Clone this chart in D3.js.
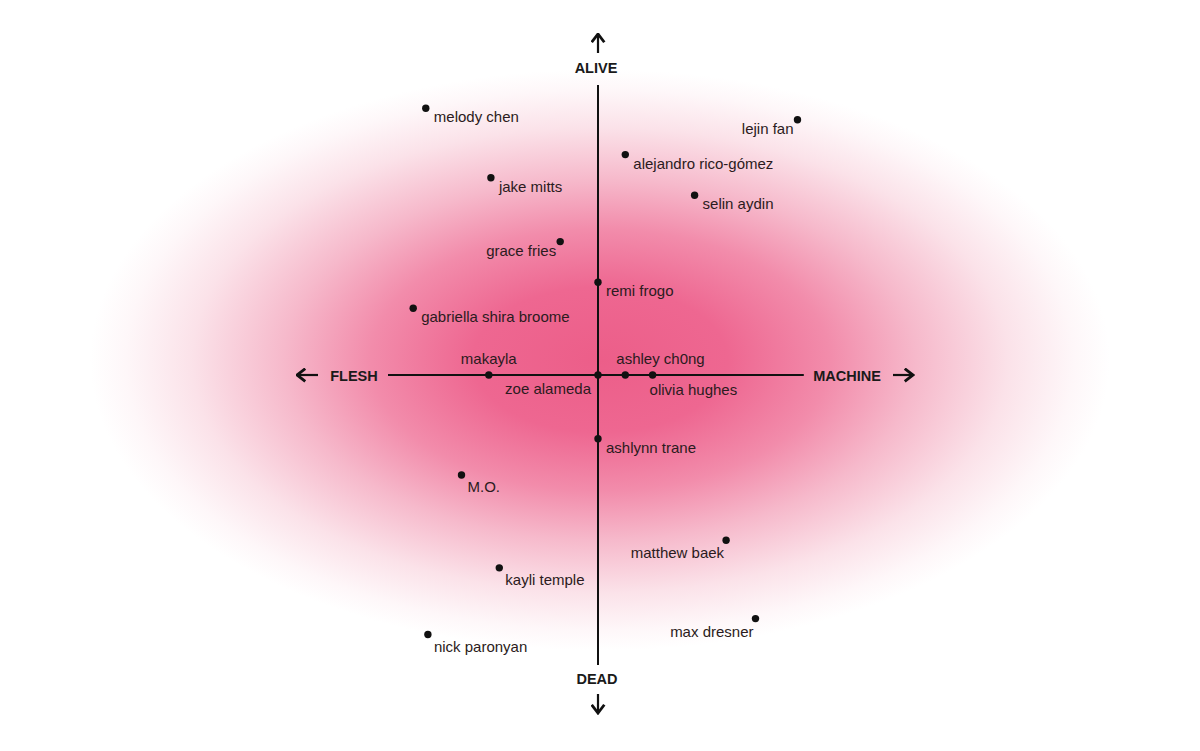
<!DOCTYPE html>
<meta charset="utf-8">
<head>
<style>
  body { margin: 0; background: #fff; }
  .name { font: 15px "Liberation Sans", Arial, sans-serif; fill: #2b1b20; }
  .axislabel { font: bold 14.5px "Liberation Sans", Arial, sans-serif; fill: #1a1a1a; }
</style>
</head>
<body>
<script src="https://cdnjs.cloudflare.com/ajax/libs/d3/7.8.5/d3.min.js"></script>
<script>

// people on the flesh <-> machine / dead <-> alive plane
var names = ["melody chen", "lejin fan", "alejandro rico-gómez", "jake mitts", "selin aydin",
             "grace fries", "remi frogo", "gabriella shira broome", "makayla", "zoe alameda",
             "ashley ch0ng", "olivia hughes", "ashlynn trane", "M.O.", "matthew baek",
             "kayli temple", "max dresner", "nick paronyan"];
var machine = [-8.2, 9.5, 1.3, -5.1, 4.6, -1.8, 0, -8.8, -5.2, 0, 1.3, 2.6, 0, -6.5, 6.1, -4.7, 7.5, -8.1];
var alive   = [9.2, 8.8, 7.6, 6.8, 6.2, 4.6, 3.2, 2.3, 0, 0, 0, 0, -2.2, -3.45, -5.7, -6.65, -8.4, -8.95];
// where each label sits relative to its dot
var labelSide = ["r", "l", "r", "r", "r", "l", "r", "r", "t", "bl", "tr", "br", "r", "rb", "lb", "rb", "lb", "rb"];

var axisNames = {left: "FLESH", right: "MACHINE", top: "ALIVE", bottom: "DEAD"};

var width = 1200, height = 751;

var x = d3.scaleLinear().domain([-10, 10]).range([388, 808]);
var y = d3.scaleLinear().domain([-10, 10]).range([665, 85]);

var svg = d3.select("body").append("svg")
    .attr("width", width)
    .attr("height", height);

// soft pink glow behind everything
var defs = svg.append("defs");
var grad = defs.append("radialGradient")
    .attr("id", "glow")
    .attr("gradientUnits", "userSpaceOnUse")
    .attr("cx", 600).attr("cy", 360).attr("r", 510)
    .attr("gradientTransform", "translate(600,360) scale(1,0.57) translate(-600,-360)");
[[0, "#ec5e89"], [0.25, "#ee6791"], [0.45, "#f28cab"], [0.62, "#f6b9cb"], [0.8, "#fbe2e9"], [0.93, "#fef7f9"], [1, "#ffffff"]]
  .forEach(function(s) { grad.append("stop").attr("offset", s[0]).attr("stop-color", s[1]); });

svg.append("rect").attr("width", width).attr("height", height).attr("fill", "#fff");
svg.append("rect").attr("width", width).attr("height", height).attr("fill", "url(#glow)");

// arrow head
defs.append("marker")
    .attr("id", "arrow")
    .attr("viewBox", "0 0 10 10")
    .attr("refX", 9).attr("refY", 5)
    .attr("markerWidth", 15).attr("markerHeight", 15)
    .attr("markerUnits", "userSpaceOnUse")
    .attr("orient", "auto")
  .append("path")
    .attr("d", "M3.5,0.8 L9,5 L3.5,9.2")
    .attr("fill", "none")
    .attr("stroke", "#111")
    .attr("stroke-width", 1.9);

var cx = x(0), cy = y(0);

// main axes
svg.append("line").attr("x1", x(-10)).attr("x2", x(9.8)).attr("y1", cy).attr("y2", cy)
    .attr("stroke", "#111").attr("stroke-width", 2);
svg.append("line").attr("x1", cx).attr("x2", cx).attr("y1", y(10)).attr("y2", y(-10))
    .attr("stroke", "#111").attr("stroke-width", 2);

// little arrows past the axis names
var arrows = [
  [x(-10) - 70, cy, x(-10) - 91, cy],
  [x(10) + 85, cy, x(10) + 105, cy],
  [cx, y(10) - 32, cx, y(10) - 51],
  [cx, y(-10) + 29, cx, y(-10) + 48]
];
svg.selectAll(".arr").data(arrows).enter().append("line")
    .attr("class", "arr")
    .attr("x1", function(d) { return d[0]; }).attr("y1", function(d) { return d[1]; })
    .attr("x2", function(d) { return d[2]; }).attr("y2", function(d) { return d[3]; })
    .attr("stroke", "#111").attr("stroke-width", 2.2)
    .attr("marker-end", "url(#arrow)");

svg.append("text").attr("class", "axislabel").attr("x", x(-10) - 34).attr("y", cy + 6)
    .attr("text-anchor", "middle").text(axisNames.left);
svg.append("text").attr("class", "axislabel").attr("x", x(10) + 39).attr("y", cy + 6)
    .attr("text-anchor", "middle").text(axisNames.right);
svg.append("text").attr("class", "axislabel").attr("x", cx - 2).attr("y", y(10) - 12)
    .attr("text-anchor", "middle").text(axisNames.top);
svg.append("text").attr("class", "axislabel").attr("x", cx - 1).attr("y", y(-10) + 19)
    .attr("text-anchor", "middle").text(axisNames.bottom);

var data = names.map(function(n, i) {
  return {name: n, mx: machine[i], al: alive[i], side: labelSide[i]};
});

svg.selectAll(".dot").data(data).enter().append("circle")
    .attr("class", "dot")
    .attr("cx", function(d) { return x(d.mx); })
    .attr("cy", function(d) { return y(d.al); })
    .attr("r", 3.7)
    .attr("fill", "#111");

var off = {
  r:  {dx: 8,  dy: 14,  anchor: "start"},
  rb: {dx: 6,  dy: 17,  anchor: "start"},
  l:  {dx: -4, dy: 14,  anchor: "end"},
  lb: {dx: -2, dy: 18,  anchor: "end"},
  t:  {dx: 0,  dy: -11, anchor: "middle"},
  tr: {dx: -9, dy: -11, anchor: "start"},
  br: {dx: -3, dy: 20,  anchor: "start"},
  bl: {dx: -7, dy: 19,  anchor: "end"}
};

svg.selectAll(".name").data(data).enter().append("text")
    .attr("class", "name")
    .attr("x", function(d) { return x(d.mx) + off[d.side].dx; })
    .attr("y", function(d) { return y(d.al) + off[d.side].dy; })
    .attr("text-anchor", function(d) { return off[d.side].anchor; })
    .text(function(d) { return d.name; });

</script>
</body>
